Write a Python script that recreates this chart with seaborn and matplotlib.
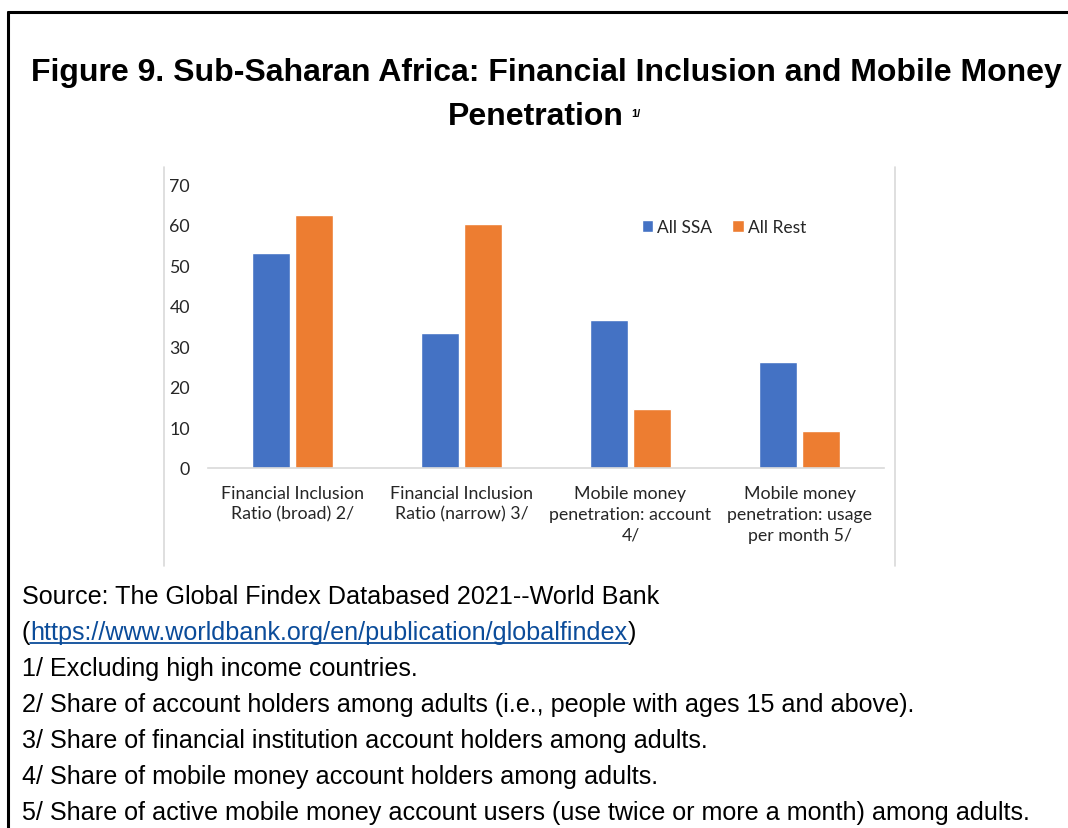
import matplotlib
matplotlib.use("Agg")
import matplotlib.pyplot as plt
import seaborn as sns
import pandas as pd
from matplotlib.lines import Line2D

categories = [
    "Financial Inclusion\nRatio (broad) 2/",
    "Financial Inclusion\nRatio (narrow) 3/",
    "Mobile money\npenetration: account\n4/",
    "Mobile money\npenetration: usage\nper month 5/",
]
series_names = ["All SSA", "All Rest"]
all_ssa = [53.1, 33.2, 36.4, 26.2]
all_rest = [62.4, 60.1, 14.6, 9.1]
y_ticks = [0, 10, 20, 30, 40, 50, 60, 70]

title_line1 = "Figure 9. Sub-Saharan Africa: Financial Inclusion and Mobile Money"
title_line2 = "Penetration"
title_sup = "1/"
source_text = "Source: The Global Findex Databased 2021--World Bank"
url_text = "https://www.worldbank.org/en/publication/globalfindex"
notes = [
    "1/ Excluding high income countries.",
    "2/ Share of account holders among adults (i.e., people with ages 15 and above).",
    "3/ Share of financial institution account holders among adults.",
    "4/ Share of mobile money account holders among adults.",
    "5/ Share of active mobile money account users (use twice or more a month) among adults.",
]

df = pd.DataFrame({
    "Category": categories * 2,
    "Group": [series_names[0]] * 4 + [series_names[1]] * 4,
    "Value": all_ssa + all_rest,
})

sns.set_theme(style="white")
plt.rcParams["font.family"] = ["Lato", "DejaVu Sans"]

W, H = 1068, 829
fig = plt.figure(figsize=(W / 100, H / 100), dpi=100)
fig.patch.set_facecolor("white")

ax = fig.add_axes([208 / W, 1 - 469 / H, 676 / W, (469 - 185) / H])
sns.barplot(data=df, x="Category", y="Value", hue="Group",
            palette=["#4472C4", "#ED7D31"], width=0.51, gap=0.12,
            saturation=1, ax=ax, legend=True)
ax.set_ylim(0, 70)
ax.set_yticks(y_ticks)
ax.set_xlim(-0.5, 3.5)
ax.set_xlabel("")
ax.set_ylabel("")
for s in ["top", "right", "left"]:
    ax.spines[s].set_visible(False)
ax.spines["bottom"].set_color("#D9D9D9")
ax.spines["bottom"].set_linewidth(1.2)
ax.tick_params(axis="both", length=0, labelsize=12.8, colors="#262626")
ax.tick_params(axis="y", pad=13)
ax.tick_params(axis="x", pad=12)
for lab in ax.get_xticklabels():
    lab.set_horizontalalignment("center")
    lab.set_multialignment("center")
    lab.set_linespacing(1.38)

ax.legend(loc="center", bbox_to_anchor=(724 / W, 1 - 228 / H),
          bbox_transform=fig.transFigure, ncol=2, frameon=False,
          handlelength=0.65, handleheight=0.65, handletextpad=0.25,
          columnspacing=1.15, fontsize=12.5, labelcolor="#262626")

# chart box side lines
fig.add_artist(Line2D([164 / W, 164 / W], [1 - 168 / H, 1 - 567 / H],
                      color="#D9D9D9", lw=1.2))
fig.add_artist(Line2D([895 / W, 895 / W], [1 - 168 / H, 1 - 567 / H],
                      color="#D9D9D9", lw=1.2))

# outer border (top and left)
fig.add_artist(Line2D([8 / W, 1.0], [1 - 13 / H, 1 - 13 / H], color="black", lw=2.2))
fig.add_artist(Line2D([8 / W, 8 / W], [1 - 13 / H, 0], color="black", lw=2.2))

r = fig.canvas.get_renderer()
tfam = ["Liberation Sans", "DejaVu Sans"]
fig.text(546 / W, 1 - 73 / H, title_line1, ha="center", va="center",
         fontsize=23, fontweight="bold", family=tfam, color="black")
t2 = fig.text(536 / W, 1 - 117 / H, title_line2, ha="center", va="center",
              fontsize=23, fontweight="bold", family=tfam, color="black")
bb = t2.get_window_extent(r)
fig.text((bb.x1 + 7) / W, 1 - 114 / H, title_sup, ha="left", va="center",
         fontsize=8, fontweight="bold", family=tfam, color="black")

fs = 18.1
x0 = 22 / W
fig.text(x0, 1 - 597 / H, source_text, ha="left", va="center", fontsize=fs,
         family=tfam, color="black")
p1 = fig.text(x0, 1 - 633 / H, "(", ha="left", va="center", fontsize=fs,
              family=tfam, color="black")
b1 = p1.get_window_extent(r)
p2 = fig.text(b1.x1 / W, 1 - 633 / H, url_text, ha="left", va="center",
              fontsize=fs, family=tfam, color="#0B4C9A")
b2 = p2.get_window_extent(r)
fig.add_artist(Line2D([b2.x0 / W, b2.x1 / W], [(b2.y0 + 1) / H, (b2.y0 + 1) / H],
                      color="#0B4C9A", lw=1.3))
fig.text(b2.x1 / W, 1 - 633 / H, ")", ha="left", va="center", fontsize=fs,
         family=tfam, color="black")
for i, n in enumerate(notes):
    fig.text(x0, 1 - (669 + 36 * i) / H, n, ha="left", va="center", fontsize=fs,
             family=tfam, color="black")

fig.savefig("out.png", dpi=100)
